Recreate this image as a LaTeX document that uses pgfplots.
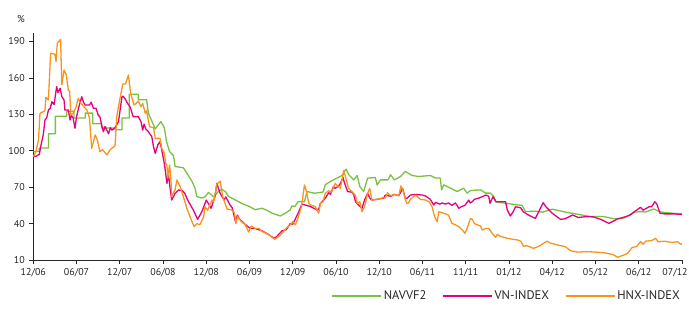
\documentclass[border=0pt]{standalone}
\usepackage{pgfplots}
\pgfplotsset{compat=1.18}
\usepackage{fontspec}
\setmainfont{PT Sans}
\definecolor{navgreen}{RGB}{122,193,66}
\definecolor{vnmag}{RGB}{230,0,126}
\definecolor{hnxor}{RGB}{247,148,29}
\begin{document}
\begin{tikzpicture}[x=1bp,y=1bp]
\path[use as bounding box] (0,0) rectangle (689,311);
\begin{axis}[
  at={(33.3bp,51bp)}, anchor=south west,
  scale only axis, width=648.7bp, height=227bp,
  xmin=0, xmax=15, ymin=10, ymax=197,
  axis x line*=bottom, axis y line*=left,
  axis line style={black!85, line width=0.9bp},
  xtick={0,...,15},
  xticklabels={12/06,06/07,12/07,06/08,12/08,06/09,12/09,06/10,12/10,06/11,11/11,01/12,04/12,05/12,06/12,{\makebox[0pt]{\hspace*{-14bp}07/12}}},
  ytick={10,40,70,100,130,160,190},
  tick align=outside, major tick length=4bp,
  tick style={black!85, line width=0.8bp},
  /pgf/number format/assume math mode=true,
  tick label style={font=\fontsize{10}{12}\selectfont, text=black!85},
  xticklabel style={yshift=-1bp},
  yticklabel style={xshift=-1bp},
  legend columns=3,
  legend style={at={(axis description cs:1.0,-0.159)}, anchor=east, draw=none, fill=none,
    inner sep=0pt, font=\fontsize{12.5}{14}\selectfont, text=black!85,
    /tikz/every even column/.append style={column sep=14bp}},
  legend image code/.code={\draw[#1] (0bp,0bp) -- (49bp,0bp);},
  every axis plot/.append style={line width=1.3bp, line join=round},
  clip=false,
]
\addplot[navgreen] coordinates {
(0,99.4) (0.14,99.4) (0.14,102.2) (0.35,102.2) (0.35,114) (0.51,114) (0.51,128.4) (0.77,128.4) (0.77,132.5) (0.94,132.5) (0.94,127) (1.2,127) (1.2,131) (1.375,131) (1.375,122.3) (1.58,122.3) (1.58,118.7) (1.89,118.7) (1.89,117.3) (2.05,117.3) (2.05,127) (2.22,127) (2.22,146.5) (2.43,146.5) (2.43,142) (2.62,142) (2.66,131) (2.82,118) (2.95,124) (3.03,119) (3.08,107.7) (3.15,99.4) (3.24,96) (3.28,87) (3.47,86) (3.55,81.6) (3.67,74.7) (3.74,69.2) (3.78,62.3) (3.9,61) (3.97,62) (4.05,65.7) (4.17,62) (4.28,66.4) (4.36,68.4) (4.45,66) (4.51,62.5) (4.67,59.5) (4.8,57) (5.0,54) (5.13,51.5) (5.2,52) (5.29,52.6) (5.4,51) (5.52,48.6) (5.71,46.3) (5.83,48.6) (5.94,51.3) (5.98,54.6) (6.05,54) (6.12,58) (6.27,58) (6.33,66.4) (6.5,65) (6.7,66) (6.75,71.9) (6.87,74.7) (7.02,77.5) (7.14,79.6) (7.23,84.9) (7.3,80) (7.41,76) (7.49,79.6) (7.55,70.5) (7.64,66.4) (7.73,77.5) (7.91,77.9) (7.95,71.9) (8.03,76) (8.2,76) (8.26,80.2) (8.35,76) (8.5,79) (8.6,82.9) (8.76,79.6) (8.91,78.8) (9.18,79.6) (9.3,77.5) (9.41,77.5) (9.44,67.8) (9.49,71.9) (9.6,70) (9.8,66.4) (9.95,69.2) (10.03,65.1) (10.11,67.2) (10.34,67.8) (10.46,65.1) (10.57,65.1) (10.65,62.3) (10.69,58.1) (10.73,57.6) (10.92,56.8) (11.19,55.4) (11.3,55) (11.38,49.9) (11.6,50.2) (11.77,49.4) (12.0,51.9) (12.3,49.5) (12.58,47.7) (12.89,45.8) (13.19,45.8) (13.43,43.9) (13.66,44.6) (13.89,49.4) (14.04,49.8) (14.16,49.5) (14.35,52.1) (14.47,49.9) (14.62,49) (14.81,48.5) (15.0,48)
};
\addlegendentry{NAVVF2}
\addplot[vnmag] coordinates {
(0,95) (0.06,95.5) (0.14,97) (0.17,103.3) (0.23,113) (0.27,125.3) (0.31,127) (0.35,133.6) (0.39,135) (0.43,140.4) (0.48,138) (0.54,152.8) (0.57,148) (0.62,151.4) (0.66,144.5) (0.71,142) (0.73,133.6) (0.81,133.6) (0.85,125.3) (0.88,129) (0.92,127) (0.965,118.5) (1.0,128) (1.065,137.7) (1.12,144.5) (1.16,140) (1.2,137.7) (1.3,137.7) (1.34,140) (1.39,135) (1.45,135) (1.5,129.4) (1.54,128) (1.58,121.2) (1.62,115.7) (1.66,120) (1.7,117) (1.74,114) (1.78,119) (1.82,117) (1.89,119) (1.97,123.9) (2.05,144.5) (2.07,145) (2.12,143) (2.18,139) (2.24,136) (2.31,128.1) (2.43,128.1) (2.49,123.9) (2.53,117) (2.56,122) (2.6,118) (2.66,115.7) (2.74,111.6) (2.78,103.3) (2.82,97.8) (2.88,105) (2.93,107.5) (2.97,100.6) (3.03,89.6) (3.09,73.1) (3.125,81) (3.16,70) (3.2,59.4) (3.28,64.9) (3.36,67.7) (3.45,67) (3.5,65) (3.59,58) (3.7,51.2) (3.8,43.5) (3.9,50) (4.0,59.4) (4.11,52.6) (4.2,62) (4.245,73.1) (4.32,64.9) (4.41,59.4) (4.45,62) (4.55,55.3) (4.6,53) (4.67,42) (4.72,47) (4.76,44) (4.85,41) (4.94,38) (5.02,36) (5.13,36) (5.29,34) (5.44,31) (5.56,28) (5.62,29) (5.75,34) (5.85,35) (5.94,40) (6.0,39.5) (6.06,44) (6.13,49) (6.21,56) (6.27,55.5) (6.41,54) (6.52,52) (6.56,51.2) (6.6,52) (6.64,56.7) (6.75,60.8) (6.83,65.4) (6.87,64) (6.94,70.4) (6.98,69) (7.06,71) (7.1,73) (7.16,78.1) (7.2,73) (7.27,66.3) (7.36,66) (7.41,64) (7.45,58) (7.52,55.3) (7.6,52.6) (7.66,59.4) (7.73,64.9) (7.78,61) (7.83,59.4) (7.95,60) (8.1,61) (8.14,63.5) (8.26,62.5) (8.35,64) (8.45,63) (8.5,66.3) (8.54,69) (8.6,61) (8.64,60.8) (8.72,63.5) (8.84,64) (9.0,63.5) (9.07,62.7) (9.18,60) (9.26,55.3) (9.3,57.5) (9.4,56) (9.45,57) (9.53,56.1) (9.6,57) (9.68,55) (9.76,57) (9.84,52.6) (9.9,54) (9.98,55) (10.07,59.4) (10.1,57) (10.15,58) (10.2,60) (10.3,61) (10.38,62.1) (10.46,63.5) (10.53,62.5) (10.56,56.7) (10.63,62.1) (10.7,58) (10.8,58) (10.92,58) (10.96,51.2) (11.03,46.2) (11.1,50) (11.15,53.9) (11.27,53) (11.33,49.8) (11.45,47) (11.61,44.3) (11.79,57.2) (11.85,54) (12.0,48.5) (12.19,43.5) (12.3,44) (12.47,47.1) (12.6,45) (12.77,45.7) (12.95,45.5) (13.12,43.5) (13.31,40.2) (13.51,43.8) (13.7,45.7) (13.8,47) (13.93,50.6) (14.04,53.4) (14.1,51) (14.24,53.9) (14.3,54) (14.37,58) (14.42,56) (14.49,48.5) (14.6,48) (14.8,48) (15.0,47.5)
};
\addlegendentry{VN-INDEX}
\addplot[hnxor] coordinates {
(0,95.1) (0.06,99.3) (0.12,108.8) (0.155,130.8) (0.27,133) (0.29,144) (0.35,142) (0.40,180.3) (0.5,179.5) (0.525,173.4) (0.555,188.5) (0.63,191.8) (0.66,154.3) (0.71,166.5) (0.76,163) (0.81,150) (0.84,149) (0.87,129.4) (0.92,131) (0.99,136.3) (1.04,143.2) (1.08,140) (1.15,137) (1.24,133.6) (1.3,126.7) (1.35,102) (1.43,113) (1.48,109) (1.54,99.2) (1.6,101) (1.7,96.5) (1.78,101) (1.89,104.1) (1.93,128.1) (1.99,140.4) (2.07,155) (2.13,155) (2.20,162.4) (2.25,147.2) (2.33,137.7) (2.38,139) (2.43,141) (2.49,136.3) (2.53,139) (2.59,130.8) (2.62,133) (2.66,125) (2.69,119.8) (2.78,119) (2.82,110.2) (2.93,110.2) (2.97,102) (3.03,97.9) (3.06,90) (3.09,88) (3.11,77.3) (3.15,88.3) (3.18,78) (3.2,62.2) (3.28,68) (3.32,75.9) (3.4,70) (3.47,62.2) (3.55,52.6) (3.63,45) (3.72,37.4) (3.78,40) (3.85,39) (3.94,45.7) (3.97,53.9) (4.03,51) (4.13,59.4) (4.17,58) (4.245,72.5) (4.32,75) (4.38,62.2) (4.48,52) (4.59,51.2) (4.65,49) (4.685,40) (4.72,46) (4.8,42) (4.9,39) (4.98,33) (5.04,38) (5.13,36) (5.22,36) (5.29,33.5) (5.44,31) (5.58,27) (5.66,29) (5.75,32) (5.87,37) (5.94,39) (6.0,41.5) (6.06,39) (6.13,45.7) (6.2,53.9) (6.27,71.8) (6.32,66) (6.37,56.7) (6.41,55.3) (6.52,54) (6.6,48.5) (6.64,57) (6.7,58) (6.75,64.9) (6.83,67) (6.9,66) (6.98,73.1) (7.04,71) (7.1,69) (7.18,83.6) (7.23,77) (7.29,69) (7.38,66) (7.45,63) (7.49,56.7) (7.55,58) (7.6,49.8) (7.66,54) (7.73,64.9) (7.78,69) (7.83,59.4) (7.95,60) (8.05,61) (8.14,61) (8.19,65.4) (8.26,63) (8.35,64) (8.45,63) (8.5,71) (8.56,66) (8.6,60) (8.64,56.7) (8.67,56.7) (8.72,60) (8.84,63.5) (8.95,60) (9.07,59.4) (9.15,58) (9.22,53.9) (9.28,45.7) (9.34,41.5) (9.375,49.8) (9.45,49) (9.53,48) (9.6,47) (9.68,40.2) (9.76,39) (9.84,37.5) (9.92,34.7) (9.98,32) (10.03,36) (10.11,44.3) (10.15,43.5) (10.2,40) (10.34,38) (10.38,34.7) (10.46,36) (10.53,36) (10.61,32) (10.69,28.7) (10.73,31) (10.8,29.5) (10.96,27.9) (11.1,27) (11.2,26.5) (11.27,25.5) (11.34,21) (11.4,22) (11.57,19.6) (11.7,21.5) (11.88,25.6) (11.95,24) (12.12,22.4) (12.3,21) (12.42,17.7) (12.58,16.5) (12.81,16.9) (13.0,16.5) (13.2,16) (13.4,14.5) (13.51,12.3) (13.65,14) (13.74,15.5) (13.85,20.4) (13.95,21) (14.04,25.1) (14.1,23) (14.16,25.5) (14.3,26) (14.39,27.9) (14.45,25) (14.6,25.5) (14.75,24.5) (14.9,25) (14.95,23.5) (15.0,22.9)
};
\addlegendentry{HNX-INDEX}
\node[font=\fontsize{10}{12}\selectfont, text=black!85] at (axis description cs:-0.019,1.062) {\%};
\end{axis}
\end{tikzpicture}
\end{document}
